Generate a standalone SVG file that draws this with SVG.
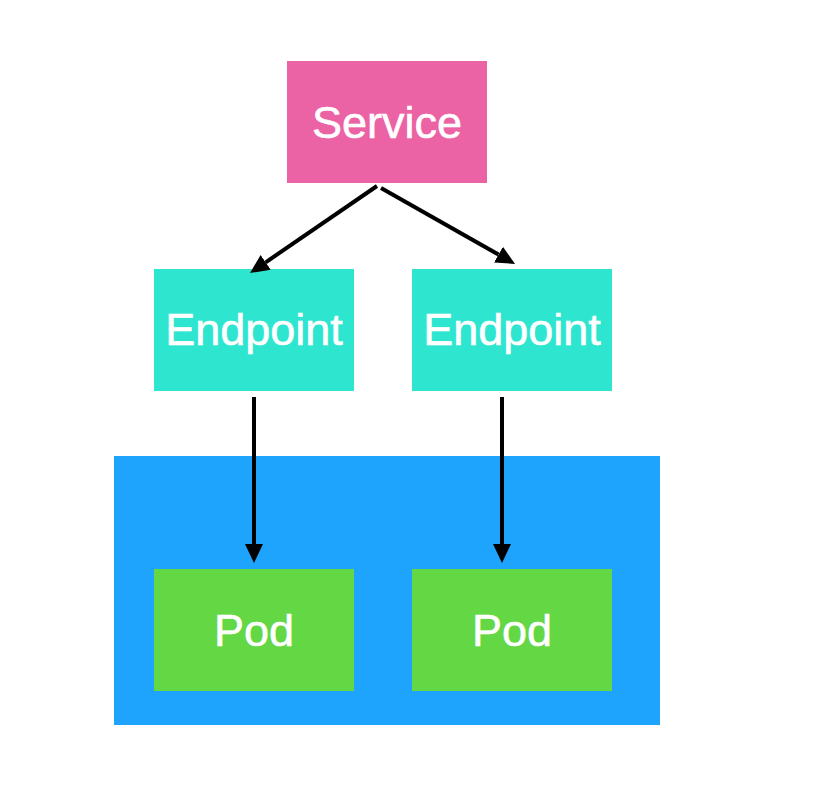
<svg xmlns="http://www.w3.org/2000/svg" width="834" height="788" viewBox="0 0 834 788">
<style>
.lbl{font-family:"Liberation Sans",Arial,Helvetica,sans-serif;font-size:45px;fill:#ffffff;stroke:#ffffff;stroke-width:0.6;text-anchor:middle}
.conn{stroke:#000000;stroke-width:4;fill:none}
</style>
<defs>
<marker id="arr" markerUnits="userSpaceOnUse" markerWidth="20" markerHeight="19" refX="0" refY="9" orient="auto">
<path d="M0,0 L19,9 L0,18 z" fill="#000000"/>
</marker>
</defs>
<rect width="834" height="788" fill="#ffffff"/>
<g id="cluster">
<rect x="114" y="456" width="546" height="269" fill="#1EA4FD"/>
</g>
<g id="service">
<rect x="287" y="61" width="200" height="122" fill="#EB62A5"/>
<text class="lbl" x="387" y="138">Service</text>
</g>
<g id="endpoint1">
<rect x="154" y="269" width="200" height="122" fill="#2EE6D0"/>
<text class="lbl" x="254" y="345">Endpoint</text>
</g>
<g id="endpoint2">
<rect x="412" y="269" width="200" height="122" fill="#2EE6D0"/>
<text class="lbl" x="512" y="345">Endpoint</text>
</g>
<g id="pod1">
<rect x="154" y="569" width="200" height="122" fill="#64D745"/>
<text class="lbl" x="254" y="646">Pod</text>
</g>
<g id="pod2">
<rect x="412" y="569" width="200" height="122" fill="#64D745"/>
<text class="lbl" x="512" y="646">Pod</text>
</g>
<g id="connectors">
<line class="conn" x1="377" y1="186" x2="265.7" y2="262.3" marker-end="url(#arr)"/>
<line class="conn" x1="381" y1="188" x2="498.5" y2="254.6" marker-end="url(#arr)"/>
<line class="conn" x1="254" y1="397" x2="254" y2="544" marker-end="url(#arr)"/>
<line class="conn" x1="502" y1="397" x2="502" y2="544" marker-end="url(#arr)"/>
</g>
</svg>
